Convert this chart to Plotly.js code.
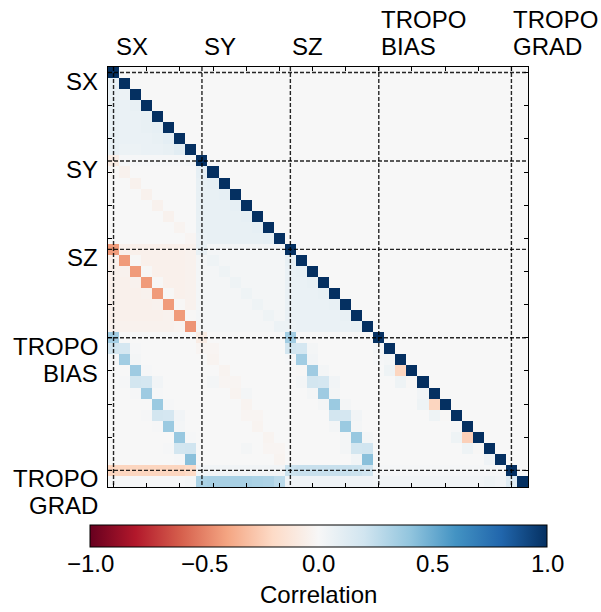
<!DOCTYPE html>
<html>
<head>
<meta charset="utf-8">
<script src="https://cdn.plot.ly/plotly-3.0.1.min.js"></script>
<style>html,body{margin:0;padding:0;background:#fff;}#chart{width:601px;height:612px;}</style>
</head>
<body>
<div id="chart"></div>
<script>
// ---- block definitions ----
const blockLabels = [['SX'], ['SY'], ['SZ'], ['TROPO', 'BIAS'], ['TROPO', 'GRAD']];
const blockSizes = [8, 8, 8, 12, 2];

// ---- lower-triangle correlation blocks (row block, col block) ----
const SX_SX = [
  [1],
  [0.07, 1],
  [0.07, 0.06, 1],
  [0.08, 0.07, 0.08, 1],
  [0.08, 0.07, 0.07, 0.08, 1],
  [0.08, 0.07, 0.07, 0.08, 0.09, 1],
  [0.08, 0.07, 0.07, 0.07, 0.08, 0.10, 1],
  [0.08, 0.06, 0.06, 0.07, 0.07, 0.08, 0.11, 1]
];
const SY_SX = [
  [-0.08, 0.01, 0.01, 0.01, 0.01, 0.01, 0.01, 0.02],
  [-0.01, -0.04, 0, 0, 0, 0, 0, 0],
  [0, 0, -0.04, 0, 0, 0, 0, 0],
  [0, 0, 0, -0.04, 0, 0, 0, 0],
  [0, 0, 0, 0, -0.04, 0, 0, 0],
  [0, 0, 0, 0, 0, -0.04, 0, 0],
  [0, 0, 0, 0, 0, 0, -0.03, 0],
  [0, 0, 0, 0, 0, 0, 0, -0.02]
];
const SY_SY = [
  [1],
  [0.09, 1],
  [0.08, 0.09, 1],
  [0.08, 0.08, 0.09, 1],
  [0.08, 0.08, 0.08, 0.09, 1],
  [0.08, 0.08, 0.08, 0.08, 0.09, 1],
  [0.08, 0.08, 0.08, 0.08, 0.08, 0.09, 1],
  [0.07, 0.08, 0.08, 0.08, 0.08, 0.08, 0.09, 1]
];
const SZ_SX = [
  [-0.43, -0.05, -0.05, -0.05, -0.05, -0.05, -0.05, -0.04],
  [-0.05, -0.43, -0.01, -0.05, -0.05, -0.05, -0.05, -0.04],
  [-0.05, -0.04, -0.43, -0.01, -0.05, -0.05, -0.05, -0.04],
  [-0.05, -0.05, -0.04, -0.43, -0.01, -0.05, -0.05, -0.04],
  [-0.05, -0.05, -0.05, -0.04, -0.43, -0.01, -0.05, -0.04],
  [-0.05, -0.05, -0.05, -0.05, -0.04, -0.43, -0.01, -0.04],
  [-0.05, -0.05, -0.05, -0.05, -0.05, -0.04, -0.43, -0.01],
  [-0.04, -0.04, -0.04, -0.04, -0.04, -0.04, -0.03, -0.45]
];
const SZ_SY = [
  [0.08, 0.02, 0.02, 0.02, 0.02, 0.02, 0.02, 0.02],
  [0.02, 0.05, 0.02, 0.02, 0.02, 0.02, 0.02, 0.02],
  [0.02, 0.02, 0.05, 0.02, 0.02, 0.02, 0.02, 0.02],
  [0.02, 0.02, 0.02, 0.05, 0.02, 0.02, 0.02, 0.02],
  [0.02, 0.02, 0.02, 0.02, 0.05, 0.02, 0.02, 0.02],
  [0.02, 0.02, 0.02, 0.02, 0.02, 0.05, 0.02, 0.02],
  [0.02, 0.02, 0.02, 0.02, 0.02, 0.02, 0.05, 0.02],
  [0.02, 0.02, 0.02, 0.02, 0.02, 0.02, 0.02, 0.06]
];
const SZ_SZ = [
  [1],
  [0.08, 1],
  [0.07, 0.08, 1],
  [0.07, 0.07, 0.08, 1],
  [0.07, 0.07, 0.07, 0.08, 1],
  [0.07, 0.07, 0.07, 0.07, 0.08, 1],
  [0.07, 0.07, 0.07, 0.07, 0.07, 0.08, 1],
  [0.06, 0.07, 0.07, 0.07, 0.07, 0.07, 0.08, 1]
];
const TB_SX = [
  [0.35, 0, 0, 0, 0, 0, 0, 0],
  [0.19, 0.18, 0.01, 0, 0, 0, 0, 0],
  [0.01, 0.35, 0.02, 0, 0, 0, 0, 0],
  [0, 0, 0.36, 0.01, 0, 0, 0, 0],
  [0, 0.01, 0.19, 0.18, 0.03, 0, 0, 0],
  [0, 0, 0.01, 0.36, 0.01, 0, 0, 0],
  [0, 0, 0, 0, 0.37, 0.01, 0, 0],
  [0, 0, 0, 0.01, 0.19, 0.18, 0.03, 0],
  [0, 0, 0, 0, 0.01, 0.37, 0.02, 0],
  [0, 0, 0, 0, 0, 0, 0.38, 0.01],
  [0, 0, 0, 0, 0, 0.01, 0.19, 0.20],
  [0, 0, 0, 0, 0, 0, 0.01, 0.42]
];
const TB_SY = [
  [-0.08, 0, 0, 0, 0, 0, 0, 0],
  [-0.02, -0.02, 0, 0, 0, 0, 0, 0],
  [0, -0.03, 0, 0, 0, 0, 0, 0],
  [0, 0, -0.03, 0, 0, 0, 0, 0],
  [0, 0.02, -0.02, -0.02, 0, 0, 0, 0],
  [0, 0, 0, -0.03, 0.02, 0, 0, 0],
  [0, 0, 0, 0, -0.03, 0, 0, 0],
  [0, 0, 0, 0, -0.02, -0.02, 0, 0],
  [0, 0, 0, 0, 0, -0.03, 0, 0],
  [0, 0, 0, 0, 0, 0, -0.03, 0],
  [0, 0, 0, 0, 0.02, 0, -0.02, -0.02],
  [0, 0, 0, 0, 0, 0, 0, -0.03]
];
const TB_SZ = [
  [0.35, 0, 0, 0, 0, 0, 0, 0],
  [0.19, 0.18, 0.02, 0, 0, 0, 0, 0],
  [0.01, 0.35, 0.03, 0, 0, 0, 0, 0],
  [0, -0.01, 0.36, 0.02, 0, 0, 0, 0],
  [0, 0.02, 0.19, 0.18, 0.03, 0, 0, 0],
  [0, 0, 0.02, 0.36, 0.02, 0, 0, 0],
  [0, 0, 0, 0.02, 0.37, 0.02, 0, 0],
  [0, 0, 0, 0, 0.19, 0.18, 0.03, 0],
  [0, 0, 0, 0, 0.02, 0.37, 0.02, 0],
  [0, 0, 0, 0, 0, 0.02, 0.38, 0.02],
  [0, 0, 0, 0, 0, 0.02, 0.19, 0.20],
  [0, 0, 0, 0, 0, 0, 0.03, 0.42]
];
const TB_TB = [
  [1],
  [0.02, 1],
  [0.01, 0.02, 1],
  [0, 0.05, -0.22, 1],
  [0, 0, 0.05, -0.01, 1],
  [0, 0, 0, 0, 0.03, 1],
  [0, 0, 0, 0, 0.05, -0.22, 1],
  [0, 0, 0, 0, 0, 0.05, -0.01, 1],
  [0, 0, 0, 0, 0, 0, 0, 0.01, 1],
  [0, 0, 0, 0, 0, 0, 0, 0.05, -0.24, 1],
  [0, 0, 0, 0, 0, 0, 0, 0, 0.05, -0.01, 1],
  [0, 0, 0, 0, 0, 0, 0, 0, 0, 0, 0.04, 1]
];
const TG_SX = [
  [-0.22, -0.22, -0.22, -0.22, -0.22, -0.22, -0.22, -0.20],
  [0.01, 0.01, 0.01, 0.01, 0.01, 0.01, 0.01, 0.02]
];
const TG_SY = [
  [0.03, 0.03, 0.03, 0.03, 0.03, 0.03, 0.03, 0.03],
  [0.32, 0.33, 0.33, 0.33, 0.33, 0.32, 0.31, 0.27]
];
const TG_SZ = [
  [0.22, 0.23, 0.23, 0.23, 0.23, 0.23, 0.22, 0.20],
  [0.04, 0.04, 0.04, 0.04, 0.04, 0.04, 0.04, 0.04]
];
const TG_TB = [
  [0.01, 0.01, 0.01, 0.01, 0.01, 0.01, 0.01, 0.01, 0.01, 0.01, 0.01, 0.01],
  [0.03, 0.03, 0.03, 0.03, 0.03, 0.03, 0.03, 0.03, 0.03, 0.03, 0.05, 0.03]
];
const TG_TG = [
  [1],
  [0.12, 1]
];

// block table [rowBlock][colBlock]
const blocks = [
  [SX_SX],
  [SY_SX, SY_SY],
  [SZ_SX, SZ_SY, SZ_SZ],
  [TB_SX, TB_SY, TB_SZ, TB_TB],
  [TG_SX, TG_SY, TG_SZ, TG_TB, TG_TG]
];

// colorbar ticks
const cbTickVals = [-1, -0.5, 0, 0.5, 1];
const cbTickText = ['\u22121.0', '\u22120.5', '0.0', '0.5', '1.0'];
const cbTitle = 'Correlation';

// ---- assemble matrix (upper triangle left empty) ----
const starts = [];
let acc = 0;
blockSizes.forEach(s => { starts.push(acc); acc += s; });
const N = acc;
const z = [];
for (let i = 0; i < N; i++) { z.push(new Array(N).fill(null)); }
blocks.forEach((rowBlocks, bi) => {
  rowBlocks.forEach((blk, bj) => {
    blk.forEach((row, r) => {
      row.forEach((v, c) => {
        z[starts[bi] + r][starts[bj] + c] = v;
      });
    });
  });
});
const idx = Array.from({length: N}, (_, i) => i);

const rdbu = [
  [0.0, '#67001f'], [0.1, '#b2182b'], [0.2, '#d6604d'], [0.3, '#f4a582'],
  [0.4, '#fddbc7'], [0.5, '#f7f7f7'], [0.6, '#d1e5f0'], [0.7, '#92c5de'],
  [0.8, '#4393c3'], [0.9, '#2166ac'], [1.0, '#053061']
];

const FONT = 'Liberation Sans, Arial, Helvetica, sans-serif';
const FS = 24;
const LINE = 27;

// colorbar geometry (paper units of the 420-px plot area)
const CB_X = 0.5012, CB_LEN_PX = 457, PLOT_PX = 420;
const CB_ZMIN = -1, CB_ZMAX = 1;

const trace = {
  type: 'heatmap',
  x: idx, y: idx, z: z,
  zmin: CB_ZMIN, zmax: CB_ZMAX,
  colorscale: rdbu,
  hoverongaps: false,
  colorbar: {
    orientation: 'h',
    x: CB_X, xanchor: 'center',
    y: -0.0905, yanchor: 'top',
    len: CB_LEN_PX, lenmode: 'pixels',
    thickness: 22, thicknessmode: 'pixels',
    xpad: 0, ypad: 0,
    outlinewidth: 1, outlinecolor: '#000',
    tickvals: cbTickVals, ticks: '', showticklabels: false
  }
};

const tickPos = [0, 3, 6, 9, 12, 15, 18, 21, 24, 27, 30, 33, 36];
const axisCommon = {
  showgrid: false, zeroline: false,
  showline: true, mirror: 'ticks', linecolor: '#000', linewidth: 1,
  ticks: 'inside', ticklen: 4, tickwidth: 1, tickcolor: '#000',
  tickvals: tickPos, showticklabels: false
};

const dash = {color: 'rgba(0,0,0,0.85)', width: 1.4, dash: '4px,2px'};
const shapes = [];
starts.forEach(s => {
  shapes.push({type: 'line', xref: 'x', yref: 'y', x0: s, x1: s, y0: -0.5, y1: N - 0.5, line: dash});
  shapes.push({type: 'line', xref: 'x', yref: 'y', y0: s, y1: s, x0: -0.5, x1: N - 0.5, line: dash});
});

const annotations = [];
blockLabels.forEach((lines, k) => {
  const n = lines.length;
  lines.forEach((txt, i) => {
    // top labels: last line sits just above the frame
    annotations.push({
      text: txt, xref: 'x', yref: 'paper', x: starts[k], y: 1,
      xanchor: 'left', yanchor: 'bottom', showarrow: false,
      xshift: 0, yshift: 5 + LINE * (n - 1 - i),
      font: {family: FONT, size: FS, color: '#000'}
    });
    // left labels: first line top aligned with block start
    annotations.push({
      text: txt, xref: 'paper', yref: 'y', x: -0.019, y: starts[k],
      xanchor: 'right', yanchor: 'top', showarrow: false,
      yshift: 7 - LINE * i,
      font: {family: FONT, size: FS, color: '#000'}
    });
  });
});
// colorbar tick labels, placed at the colorbar's value scale
const cbHalf = CB_LEN_PX / 2 / PLOT_PX;
cbTickVals.forEach((v, i) => {
  annotations.push({
    text: cbTickText[i], xref: 'paper', yref: 'paper',
    x: CB_X - cbHalf + (v - CB_ZMIN) / (CB_ZMAX - CB_ZMIN) * 2 * cbHalf,
    y: -0.1833, xanchor: 'center', yanchor: 'middle', showarrow: false,
    font: {family: FONT, size: FS, color: '#000'}
  });
});
// colorbar title
annotations.push({
  text: cbTitle, xref: 'paper', yref: 'paper', x: CB_X, y: -0.2548,
  xanchor: 'center', yanchor: 'middle', showarrow: false,
  font: {family: FONT, size: FS, color: '#000'}
});

const layout = {
  width: 601, height: 612,
  margin: {l: 108, r: 73, t: 67, b: 125, pad: 0, autoexpand: false},
  paper_bgcolor: '#ffffff',
  plot_bgcolor: '#f7f7f7',
  font: {family: FONT, size: FS, color: '#000'},
  xaxis: Object.assign({range: [-0.5, N - 0.5], automargin: false}, axisCommon),
  yaxis: Object.assign({range: [N - 0.5, -0.5], automargin: false}, axisCommon),
  shapes: shapes,
  annotations: annotations,
  showlegend: false
};

Plotly.newPlot('chart', [trace], layout, {displayModeBar: false, staticPlot: true});
</script>
</body>
</html>
